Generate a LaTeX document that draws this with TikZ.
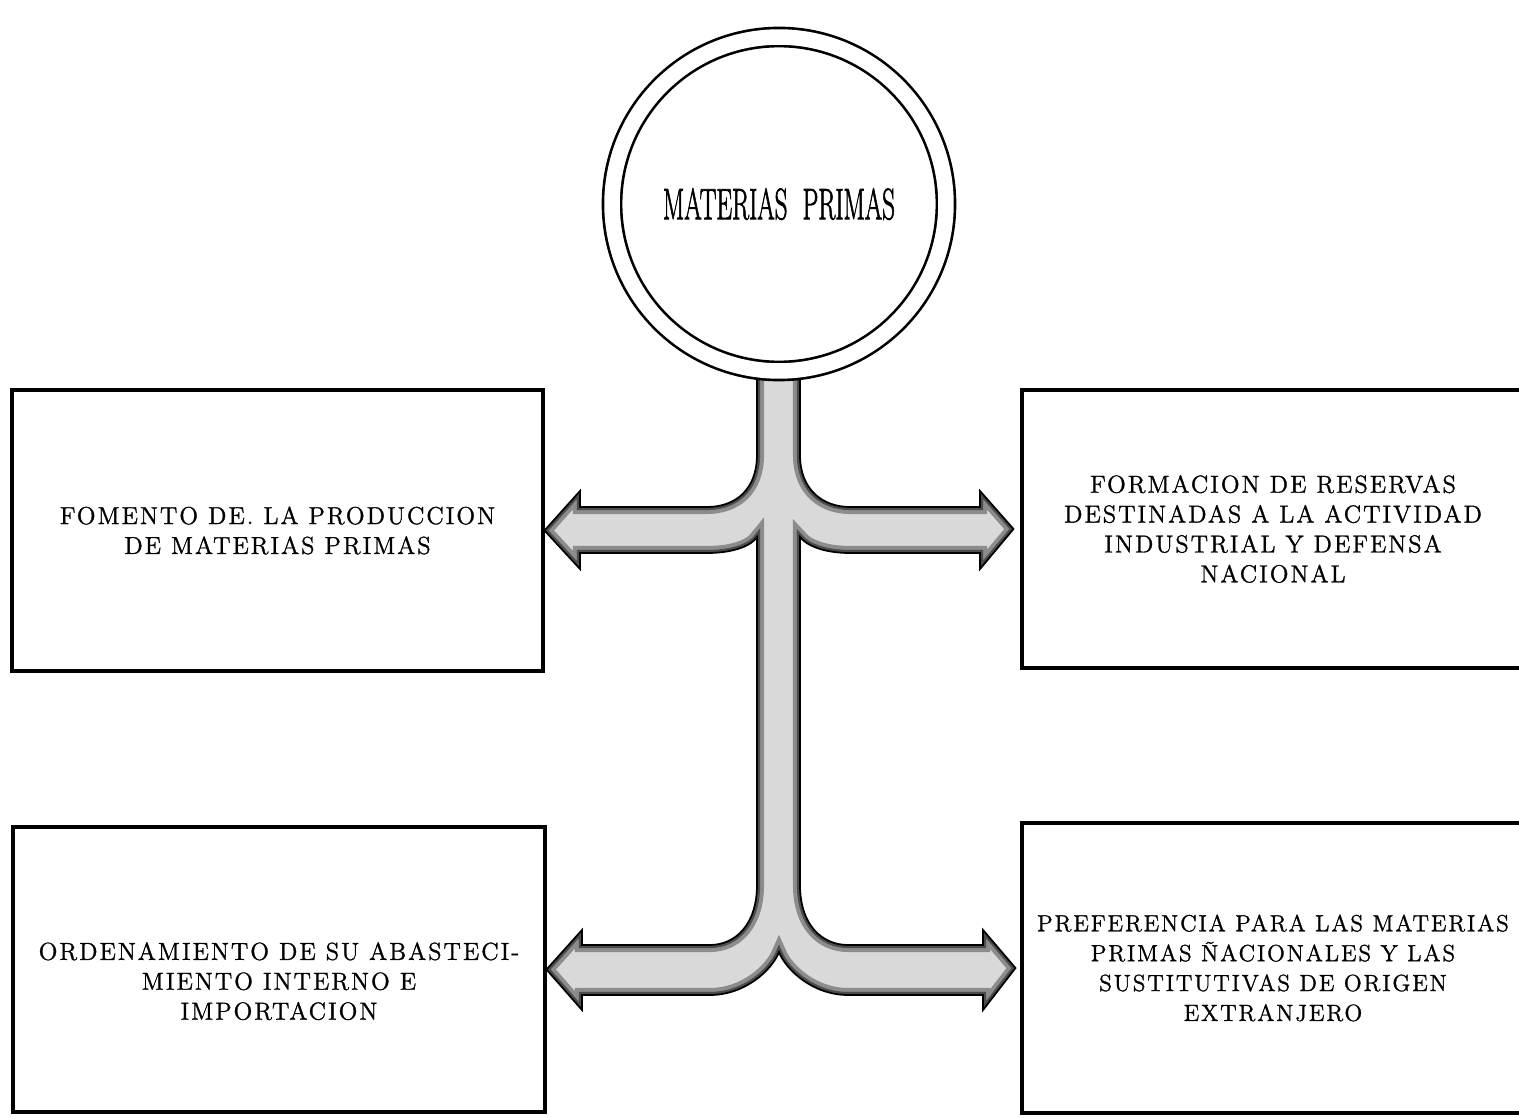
\documentclass[tikz,border=0pt]{standalone}
\usepackage{fontspec}
\usepackage{graphicx}
\usepackage{tikz}
\newfontfamily\cuadrofont{Latin Modern Roman}[LetterSpace=8, FakeBold=1.2]
\newfontfamily\circulofont{Latin Modern Roman}[FakeBold=2]
\tikzset{
    cuadro/.style={draw, line width=1.8pt, rectangle, align=center, inner sep=0pt,
        font=\cuadrofont\fontsize{14}{17}\selectfont},
    ramas/.style={line width=1pt}
}

\begin{document}
\begin{tikzpicture}[x=0.02cm, y=-0.02cm]
        \useasboundingbox (0,0) rectangle (1519,1118);
        \node[cuadro, minimum width=10.62cm, minimum height=5.62cm] (fomento) at (277.5,530.5)
            {FOMENTO DE. LA PRODUCCION\\DE MATERIAS PRIMAS};
        \node[cuadro, minimum width=10.04cm, minimum height=5.56cm] (reservas) at (1273,529)
            {FORMACION DE RESERVAS\\DESTINADAS A LA ACTIVIDAD\\INDUSTRIAL Y DEFENSA\\NACIONAL};
        \node[cuadro, minimum width=10.64cm, minimum height=5.7cm] (ordenamiento) at (279,969.5)
            {\rule{0pt}{0.82cm}ORDENAMIENTO DE SU ABASTECI-\\MIENTO INTERNO E\\IMPORTACION};
        \node[cuadro, minimum width=10.04cm, minimum height=5.8cm, font=\cuadrofont\fontsize{13.3}{17}\selectfont]
            (preferencia) at (1273,968)
            {PREFERENCIA PARA LAS MATERIAS\\PRIMAS ÑACIONALES Y LAS\\SUSTITUTIVAS DE ORIGEN\\EXTRANJERO};
        \path[save path=\tronco] (757,372) -- (757,455)
            .. controls (757,490) and (735,507) .. (707,507)
            -- (580,507) -- (580,491) -- (fomento.east) -- (580,569) -- (580,553)
            -- (707,553) .. controls (735,553) and (752,545) .. (757,537)
            -- (757,885) .. controls (757,925) and (735,945) .. (710,945)
            -- (582,945) -- (582,930) -- (ordenamiento.east) -- (582,1010) -- (582,995)
            -- (710,995) .. controls (745,995) and (772,970) .. (779,952)
            .. controls (786,970) and (813,995) .. (848,995)
            -- (983,995) -- (983,1010) -- ([xshift=-0.1cm]preferencia.west) -- (983,930) -- (983,945)
            -- (848,945) .. controls (822,945) and (800,925) .. (800,885)
            -- (800,537) .. controls (806,545) and (823,553) .. (850,553)
            -- (980,553) -- (980,569) -- ([xshift=-0.14cm]reservas.west) -- (980,491) -- (980,507)
            -- (850,507) .. controls (823,507) and (800,490) .. (800,455)
            -- (800,372) -- cycle;
        \fill[gray!30, use path=\tronco];
        \begin{scope}
            \clip[use path=\tronco];
            \draw[black!45, line width=8pt, use path=\tronco];
            \draw[black!70, line width=3.5pt, use path=\tronco];
        \end{scope}
        \draw[ramas, use path=\tronco];
        \node[draw, circle, line width=1.5pt, double, double distance=0.31cm, fill=white,
            minimum size=6.68cm, inner sep=0pt] (materias) at (779,204)
            {\scalebox{0.57}[1]{\circulofont\fontsize{25}{26}\selectfont MATERIAS\ \ PRIMAS}};
    \end{tikzpicture}
\end{document}
